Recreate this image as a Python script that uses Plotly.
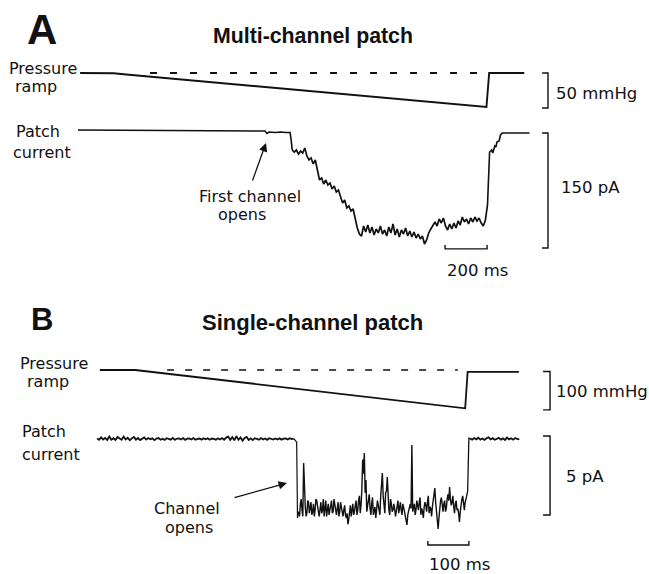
import plotly.graph_objects as go

W, H = 649, 574

# ---------------- Panel A: multi-channel patch ----------------
# pressure ramp (time in ms, pressure in mmHg)
A_press_t = [10, 170, 230, 1945, 1958, 2125]
A_press_mmHg = [0.0, -0.4, -2.2, -48.6, 0.0, 0.0]
A_ref_t = [343, 1938]          # extent of the dashed zero-pressure reference

# patch current (pA): quiet start, noisy opening phase sampled every 10 ms, recovery
A_curr_pre_t = [0, 580, 890, 900, 910, 940, 965, 990, 1010, 1015, 1020]
A_curr_pre_pA = [0.0, -0.4, -1.3, -4.6, -2.6, -3.3, -2.6, -3.3, -3.3, -13.0, -26.1]

A_open_t0, A_open_dt = 1020, 10
A_open_pA = [
    -26.1, -28.7, -26.1, -31.3, -27.4, -30.0, -23.5, -33.9, -39.1, -36.5,
    -44.3, -39.1, -52.2, -65.2, -62.6, -70.4, -65.2, -71.7, -69.1, -77.0,
    -73.0, -80.9, -78.3, -86.1, -95.2, -91.3, -101.7, -99.1, -105.7, -103.0,
    -117.4, -127.8, -135.7, -138.3, -125.2, -133.0, -123.9, -134.3, -126.5, -137.0,
    -129.1, -134.3, -125.2, -135.7, -130.4, -138.3, -126.5, -134.3, -122.6, -137.0,
    -129.1, -139.6, -130.4, -135.7, -127.8, -138.3, -131.7, -139.6, -133.0, -140.9,
    -135.7, -142.2, -138.3, -148.7, -143.5, -134.3, -129.1, -123.9, -120.0, -125.2,
    -116.1, -121.3, -114.8, -125.2, -130.4, -122.6, -129.1, -121.3, -127.8, -118.7,
    -123.9, -113.5, -120.0, -116.1, -122.6, -114.8, -120.0, -113.5, -118.7, -114.8,
    -121.3, -125.2, -117.4, -97.8,
]

A_curr_post_t = [1950, 1955, 1960, 1970, 1975, 1985, 1990, 1995, 2005, 2012, 2020, 2150]
A_curr_post_pA = [-97.8, -45.7, -28.7, -26.1, -30.0, -20.9, -22.2, -15.7, -14.3, -6.5, -3.9, -3.9]

A_bar_mmHg, A_bar_pA, A_bar_ms = 50, 150, 200

# ---------------- Panel B: single-channel patch ----------------
B_press_t = [7, 93, 898, 904, 1029]
B_press_mmHg = [0.0, 0.0, -100.0, -5.0, -5.0]
B_ref_t = [171, 880]

# closed-channel baseline, sampled every 5 ms
B_base_t0, B_base_dt = 0, 5
B_base_pA = [
    0.04, -0.05, 0.10, -0.03, 0.07, -0.06, 0.16, -0.04, 0.05, -0.06,
    0.12, 0.01, -0.05, 0.15, -0.03, 0.08, -0.08, 0.04, 0.13, -0.04,
    0.06, -0.07, 0.03, 0.10, -0.04, 0.06, -0.02, 0.04, -0.07, 0.03,
    0.06, -0.05, 0.02, -0.06, 0.05, 0.01, -0.04, 0.07, -0.05, 0.03,
    0.04, -0.03, 0.06, -0.06, 0.02, 0.04, -0.03, 0.06, -0.05, 0.01,
    0.03, -0.04, 0.05, -0.02, 0.04, -0.05, 0.03, 0.01, -0.04, 0.05,
    -0.03, 0.06, -0.05, 0.09, 0.15, -0.06, 0.12, -0.08, 0.18, -0.05,
    0.10, -0.10, 0.07, 0.13, -0.06, 0.04, -0.07, 0.05, 0.02, -0.04,
    0.06, -0.03, 0.03, -0.05, 0.05, 0.01, -0.04, 0.03, -0.03, 0.04,
    -0.04, 0.02, 0.03, -0.03, 0.05, -0.01, 0.02,
]

# channel opening
B_drop_t = [480, 484, 487, 489, 492]
B_drop_pA = [0.02, -0.10, -0.20, -5.00, -4.60]

# open-channel current, sampled every 2 ms
B_open_t0, B_open_dt = 492, 2
B_open_pA = [
    -4.6, -4.9, -4.1, -3.8, -4.5, -4.9, -1.52, -4.0, -4.3, -4.9,
    -4.7, -3.9, -4.0, -4.7, -4.4, -4.0, -4.8, -4.6, -4.1, -4.9,
    -4.5, -3.8, -3.9, -4.4, -4.6, -4.9, -4.2, -4.0, -4.7, -4.5,
    -3.8, -4.9, -4.4, -3.9, -4.9, -4.6, -4.1, -4.8, -4.5, -4.0,
    -3.9, -4.7, -4.6, -3.8, -4.2, -4.6, -4.8, -4.4, -4.0, -4.9,
    -4.6, -4.0, -4.3, -4.6, -4.9, -4.5, -4.2, -4.8, -5.0, -4.7,
    -5.4, -5.1, -4.5, -4.2, -4.9, -4.4, -4.1, -4.8, -4.6, -4.2,
    -3.9, -4.8, -4.5, -3.9, -3.6, -4.7, -4.2, -3.2, -1.3, -2.2,
    -0.89, -3.4, -2.6, -4.6, -4.3, -4.0, -3.5, -4.4, -4.8, -4.1,
    -3.7, -4.8, -4.4, -4.3, -5.0, -4.4, -3.9, -4.2, -4.6, -4.8,
    -3.6, -3.1, -2.15, -3.6, -4.2, -4.7, -3.4, -3.3, -2.41, -3.9,
    -4.5, -4.8, -3.8, -4.1, -4.6, -4.5, -4.1, -4.4, -4.9, -4.6,
    -4.2, -3.9, -4.7, -4.4, -4.0, -4.5, -4.8, -4.1, -4.3, -4.6,
    -4.9, -5.1, -5.44, -4.8, -4.5, -4.2, -4.1, -4.4, -0.38, -4.6,
    -4.3, -4.1, -4.8, -4.5, -3.9, -4.2, -4.5, -4.0, -3.7, -4.8,
    -4.4, -4.6, -5.0, -4.3, -4.0, -4.2, -4.6, -4.0, -3.6, -4.7,
    -4.3, -4.4, -4.9, -4.3, -3.9, -3.5, -3.1, -4.0, -4.5, -4.8,
    -5.7, -5.0, -4.2, -3.9, -3.7, -4.3, -4.6, -4.1, -3.9, -4.6,
    -4.4, -3.8, -3.5, -3.9, -3.04, -3.8, -4.2, -4.0, -3.6, -4.3,
    -4.7, -4.1, -3.9, -4.5, -4.4, -4.7, -5.25, -4.6, -4.0, -3.8,
    -3.6, -4.2, -4.5, -4.0, -3.8,
]

# channel closing
B_rise_t = [900, 904, 907, 910]
B_rise_pA = [-3.8, -3.3, 0.05, 0.02]

B_post_t0, B_post_dt = 910, 5
B_post_pA = [
    0.02, -0.04, 0.06, -0.02, 0.08, -0.04, 0.03, -0.06, 0.05, 0.10,
    -0.03, 0.05, -0.05, 0.02, 0.07, -0.04, 0.04, -0.06, 0.09, -0.02,
    0.05, -0.04, 0.06, 0.00, -0.03,
]

B_bar_mmHg, B_bar_pA, B_bar_ms = 100, 5, 100

# ---------------- axis geometry (pixels per unit and origin pixel) ----------------
def x_range(origin_px, px_per_unit):
    return [-origin_px / px_per_unit, (W - origin_px) / px_per_unit]


def y_range(origin_px, px_per_unit):
    return [(origin_px - H) / px_per_unit, origin_px / px_per_unit]


A_x = x_range(78, 0.21)          # 200 ms = 42 px
A_yP = y_range(73, 0.70)         # 50 mmHg = 35 px
A_yI = y_range(130, 0.7667)      # 150 pA = 115 px
B_x = x_range(97, 0.41)          # 100 ms = 41 px
B_yP = y_range(370, 0.383)       # 100 mmHg = 38 px
B_yI = y_range(439, 15.8)        # 5 pA = 79 px

INK = "#111111"
fig = go.Figure()


def line(x, y, xa, ya, width=1.4, dash=None):
    fig.add_trace(go.Scatter(x=x, y=y, xaxis=xa, yaxis=ya, mode="lines",
                             line=dict(color=INK, width=width, dash=dash),
                             hoverinfo="skip", showlegend=False))


def sampled(t0, dt, y, xa, ya, width=1.2):
    fig.add_trace(go.Scatter(x0=t0, dx=dt, y=y, xaxis=xa, yaxis=ya, mode="lines",
                             line=dict(color=INK, width=width),
                             hoverinfo="skip", showlegend=False))


# Panel A traces
line(A_press_t, A_press_mmHg, "x", "y", width=1.9)
line(A_ref_t, [0, 0], "x", "y", width=1.8, dash="7px,13px")
line(A_curr_pre_t, A_curr_pre_pA, "x", "y2", width=1.6)
sampled(A_open_t0, A_open_dt, A_open_pA, "x", "y2", width=1.7)
line(A_curr_post_t, A_curr_post_pA, "x", "y2", width=1.6)

# Panel A scale bars
a_bx, a_tick = 2238, 28
line([a_bx - a_tick, a_bx, a_bx, a_bx - a_tick], [0, 0, -A_bar_mmHg, -A_bar_mmHg], "x", "y")
a_top = A_curr_post_pA[-1]
line([a_bx - a_tick, a_bx, a_bx, a_bx - a_tick],
     [a_top, a_top, a_top - A_bar_pA, a_top - A_bar_pA], "x", "y2")
a_tend, a_ty = 1948, -155
line([a_tend - A_bar_ms, a_tend - A_bar_ms, a_tend, a_tend], [a_ty + 5, a_ty, a_ty, a_ty + 5], "x", "y2")

# Panel B traces
line(B_press_t, B_press_mmHg, "x2", "y3", width=1.8)
line(B_ref_t, [0, 0], "x2", "y3", width=1.6, dash="7px,11px")
sampled(B_base_t0, B_base_dt, B_base_pA, "x2", "y4", width=1.8)
line(B_drop_t, B_drop_pA, "x2", "y4", width=1.2)
sampled(B_open_t0, B_open_dt, B_open_pA, "x2", "y4", width=1.4)
line(B_rise_t, B_rise_pA, "x2", "y4", width=1.3)
sampled(B_post_t0, B_post_dt, B_post_pA, "x2", "y4", width=1.8)

# Panel B scale bars
b_bx, b_tick = 1105, 17
line([b_bx - b_tick, b_bx, b_bx, b_bx - b_tick], [-4, -4, -4 - B_bar_mmHg, -4 - B_bar_mmHg], "x2", "y3")
b_top = 0.19
line([b_bx - b_tick, b_bx, b_bx, b_bx - b_tick],
     [b_top, b_top, b_top - B_bar_pA, b_top - B_bar_pA], "x2", "y4")
b_tend, b_ty = 907, -6.71
line([b_tend - B_bar_ms, b_tend - B_bar_ms, b_tend, b_tend], [b_ty + 0.26, b_ty, b_ty, b_ty + 0.26], "x2", "y4")

# ---------------- text ----------------
LABEL_FONT = "DejaVu Sans, Verdana, sans-serif"
TITLE_FONT = "Liberation Sans, Arial, Helvetica, sans-serif"
annotations = []


def text(s, x, y, size=16, anchor="center", family=LABEL_FONT):
    annotations.append(dict(text=s, x=x / W, y=1 - y / H, xref="paper", yref="paper",
                            xanchor=anchor, yanchor="middle", showarrow=False, borderpad=0,
                            font=dict(family=family, size=size, color=INK)))


def arrow(head, tail):
    annotations.append(dict(text="", x=head[0] / W, y=1 - head[1] / H, xref="paper", yref="paper",
                            ax=tail[0] - head[0], ay=tail[1] - head[1], showarrow=True,
                            arrowhead=2, arrowsize=1.3, arrowwidth=1.3, arrowcolor=INK, standoff=0))


# Panel A
text("<b>A</b>", 42, 29, size=42, family=TITLE_FONT)
text("<b>Multi-channel patch</b>", 312.5, 36, size=21.3, family=TITLE_FONT)
text("Pressure", 42.5, 68)
text("ramp", 36, 87)
text("Patch", 37.5, 131)
text("current", 41.5, 152)
text("First channel", 249.5, 196)
text("opens", 241.5, 215)
arrow((266, 143), (252, 182))
text("50 mmHg", 555, 94, size=16.5, anchor="left")
text("150 pA", 560, 187, size=16.5, anchor="left")
text("200 ms", 477, 270.5, size=16.5)

# Panel B
text("<b>B</b>", 42, 319, size=31, family=TITLE_FONT)
text("<b>Single-channel patch</b>", 312, 322.5, size=22, family=TITLE_FONT)
text("Pressure", 54, 363)
text("ramp", 47.5, 381.7)
text("Patch", 44, 431)
text("current", 51, 454)
text("Channel", 187, 508.4)
text("opens", 189, 527.5)
arrow((287, 483), (233, 498))
text("100 mmHg", 555, 391, size=16.5, anchor="left")
text("5 pA", 565, 476, size=16.5, anchor="left")
text("100 ms", 459, 564, size=16.5)

hidden = dict(visible=False, fixedrange=True, showgrid=False, zeroline=False)
fig.update_layout(
    width=W, height=H, autosize=False,
    margin=dict(l=0, r=0, t=0, b=0, pad=0),
    paper_bgcolor="white", plot_bgcolor="white",
    showlegend=False,
    xaxis=dict(range=A_x, domain=[0, 1], anchor="y", **hidden),
    xaxis2=dict(range=B_x, domain=[0, 1], anchor="y", overlaying="x", **hidden),
    yaxis=dict(range=A_yP, domain=[0, 1], anchor="x", **hidden),
    yaxis2=dict(range=A_yI, domain=[0, 1], anchor="x", overlaying="y", **hidden),
    yaxis3=dict(range=B_yP, domain=[0, 1], anchor="x2", overlaying="y", **hidden),
    yaxis4=dict(range=B_yI, domain=[0, 1], anchor="x2", overlaying="y", **hidden),
    annotations=annotations,
)

fig.write_html("out.html", config={"displayModeBar": False})
